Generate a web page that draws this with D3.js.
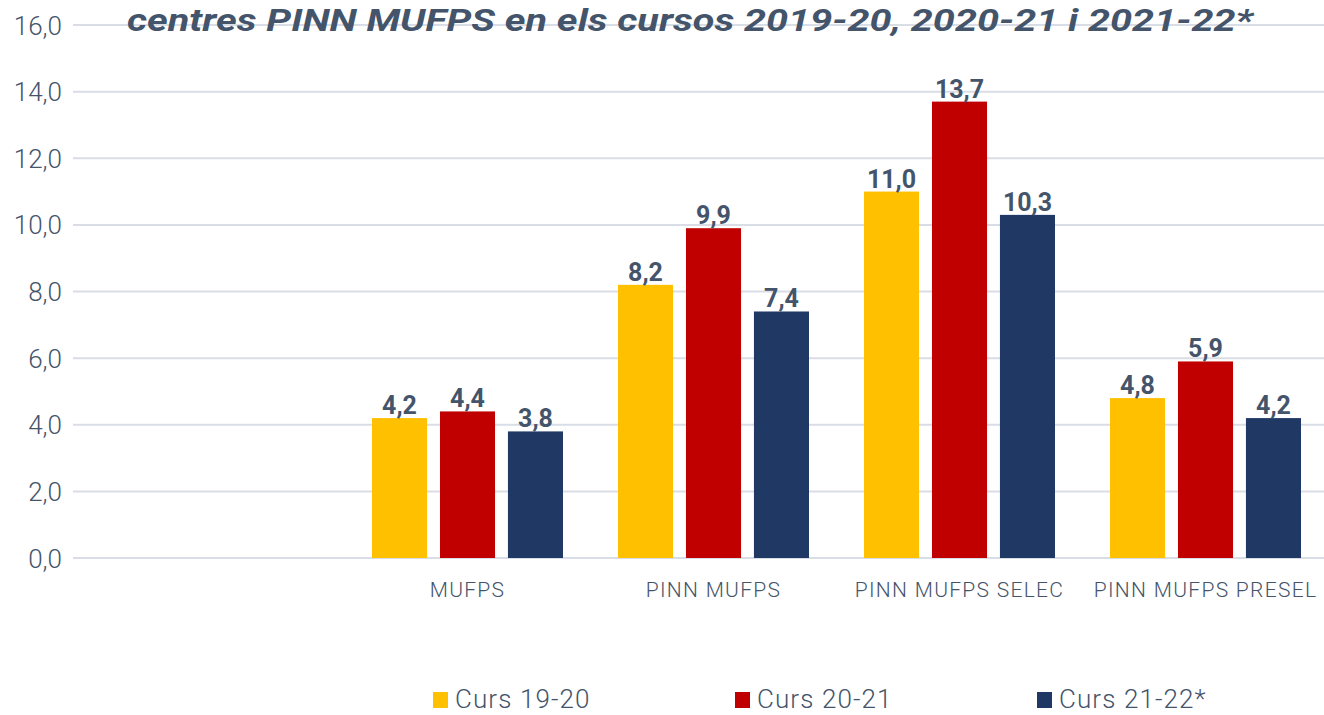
<!DOCTYPE html>
<html>
<head>
<meta charset="utf-8">
<script src="https://cdn.jsdelivr.net/npm/d3@7"></script>
<style>
  body { margin: 0; background: #fff; }
  text { fill: #44546A; }
</style>
</head>
<body>
<div id="chart"></div>
<script>

var categories = ["", "MUFPS", "PINN MUFPS", "PINN MUFPS SELEC", "PINN MUFPS PRESEL"];
var seriesNames = ["Curs 19-20", "Curs 20-21", "Curs 21-22*"];
var curs1920 = [null, 4.2, 8.2, 11.0, 4.8];
var curs2021 = [null, 4.4, 9.9, 13.7, 5.9];
var curs2122 = [null, 3.8, 7.4, 10.3, 4.2];
var yTicks = [0, 2, 4, 6, 8, 10, 12, 14, 16];
var colors = ["#FFC000", "#C00000", "#203864"];

var fullwidth = 1324;
var fullheight = 715;

var svg = d3.select("#chart")
    .append("svg")
    .attr("width", fullwidth)
    .attr("height", fullheight);

var allSeries = [curs1920, curs2021, curs2122];

var xScale = d3.scaleBand()
    .domain(categories)
    .range([98.5, 1328.5]);

var xInner = d3.scaleBand()
    .domain(seriesNames)
    .range([27.5, 218.5])
    .paddingInner(0.19);

var yScale = d3.scaleLinear()
    .domain([0, 16])
    .range([558, 25]);

var fmt = function(v) { return d3.format(".1f")(v).replace(".", ","); };

// gridlines
svg.append("g")
    .selectAll("line")
    .data(yTicks)
    .enter()
    .append("line")
    .attr("x1", 73)
    .attr("x2", fullwidth)
    .attr("y1", function(d) { return yScale(d); })
    .attr("y2", function(d) { return yScale(d); })
    .attr("stroke", "#D9DEE6")
    .attr("stroke-width", 2);

// y labels
var yAxis = d3.axisLeft(yScale)
    .tickValues(yTicks)
    .tickSize(0)
    .tickPadding(0)
    .tickFormat(fmt);

svg.append("g")
    .attr("class", "y axis")
    .attr("transform", "translate(62,0)")
    .call(yAxis)
    .call(function(g) { g.select(".domain").remove(); })
    .selectAll("text")
    .attr("dy", "0.35em")
    .style("font-family", "Roboto")
    .style("font-weight", 300)
    .style("font-size", "26px")
    .style("fill", "#44546A");

// title
svg.append("text")
    .attr("x", 690)
    .attr("y", 31)
    .attr("text-anchor", "middle")
    .attr("textLength", 1126)
    .attr("lengthAdjust", "spacingAndGlyphs")
    .style("font-family", "Roboto")
    .style("font-weight", 700)
    .style("font-style", "italic")
    .style("font-size", "31px")
    .text("centres PINN MUFPS en els cursos 2019-20, 2020-21 i 2021-22*");

// bars
var groups = svg.selectAll("g.cat")
    .data(categories)
    .enter()
    .append("g")
    .attr("class", "cat")
    .attr("transform", function(d) { return "translate(" + xScale(d) + ",0)"; });

groups.selectAll("rect")
    .data(function(d, i) {
        return seriesNames.map(function(s, j) {
            return { series: s, value: allSeries[j][i], color: colors[j] };
        }).filter(function(e) { return e.value !== null; });
    })
    .enter()
    .append("rect")
    .attr("x", function(d) { return xInner(d.series); })
    .attr("width", xInner.bandwidth())
    .attr("y", function(d) { return yScale(d.value); })
    .attr("height", function(d) { return yScale(0) - yScale(d.value); })
    .attr("fill", function(d) { return d.color; });

groups.selectAll("text.dotlabels")
    .data(function(d, i) {
        return seriesNames.map(function(s, j) {
            return { series: s, value: allSeries[j][i] };
        }).filter(function(e) { return e.value !== null; });
    })
    .enter()
    .append("text")
    .attr("class", "dotlabels")
    .attr("x", function(d) { return xInner(d.series) + xInner.bandwidth() / 2; })
    .attr("y", function(d) { return yScale(d.value) - 4; })
    .attr("text-anchor", "middle")
    .style("font-family", "Roboto")
    .style("font-weight", 700)
    .style("font-size", "25px")
    .text(function(d) { return fmt(d.value); });

// category labels
svg.append("g")
    .selectAll("text")
    .data(categories)
    .enter()
    .append("text")
    .attr("x", function(d) { return xScale(d) + xScale.bandwidth() / 2; })
    .attr("y", 597)
    .attr("text-anchor", "middle")
    .style("font-family", "Roboto")
    .style("font-weight", 300)
    .style("font-size", "21px")
    .style("letter-spacing", "1.3px")
    .text(function(d) { return d; });

// legend
var legend = svg.append("g")
    .selectAll("g")
    .data(seriesNames)
    .enter()
    .append("g")
    .attr("transform", function(d, i) { return "translate(" + (433 + i * 302) + ",692)"; });

legend.append("rect")
    .attr("width", 15)
    .attr("height", 16)
    .attr("fill", function(d, i) { return colors[i]; });

legend.append("text")
    .attr("x", 22)
    .attr("y", 16)
    .style("font-family", "Roboto")
    .style("font-weight", 300)
    .style("font-size", "26px")
    .style("letter-spacing", "1.1px")
    .text(function(d) { return d; });

</script>
</body>
</html>
